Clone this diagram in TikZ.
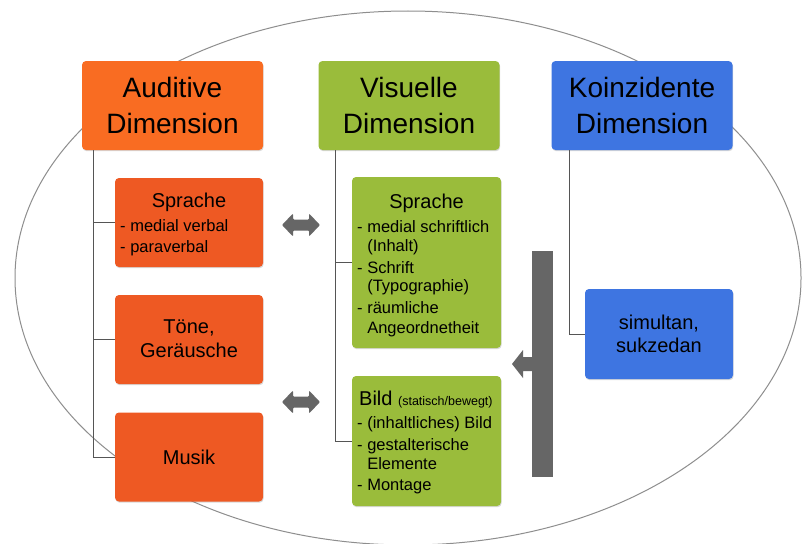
\documentclass[tikz,border=0pt]{standalone}
\usepackage{fontspec}
\setmainfont{Liberation Sans}
\usetikzlibrary{shadows}
\definecolor{audtitle}{HTML}{F96C22}
\definecolor{audsub}{HTML}{EE5923}
\definecolor{vis}{HTML}{9ABC3B}
\definecolor{koin}{HTML}{3E75E1}
\definecolor{arrgray}{HTML}{666666}
\definecolor{treeline}{HTML}{555555}
\definecolor{ellgray}{HTML}{8E8E8E}
\tikzset{
  box/.style={rounded corners=4pt, inner sep=0pt,
    drop shadow={opacity=0.3,shadow xshift=0.6pt,shadow yshift=-1.2pt}},
  titlebox/.style={box, minimum width=181pt, minimum height=89pt,
    font=\fontsize{28}{36}\selectfont, align=center},
  subbox/.style={box, minimum width=148pt},
  headtxt/.style={anchor=base, inner sep=0pt, font=\fontsize{20}{24}\selectfont},
  itemtxt/.style={anchor=base west, inner sep=0pt, font=\fontsize{16.5}{19.5}\selectfont},
  centertxt/.style={align=center, inner sep=0pt, font=\fontsize{20}{24}\selectfont},
  tree/.style={draw=treeline, line width=0.8pt},
  dblarrow/.pic={\fill[arrgray, rounded corners=1pt] (-19,0) -- (-8,-11.5) -- (-8,-5.5) -- (8,-5.5) -- (8,-11.5) -- (19,0) -- (8,11.5) -- (8,5.5) -- (-8,5.5) -- (-8,11.5) -- cycle;}
}
\begin{document}
\begin{tikzpicture}[x=1pt,y=-1pt]
\useasboundingbox (0,0) rectangle (802,543);
\fill[white] (0,0) rectangle (802,543);
% ellipse
\draw[ellgray, line width=1pt] (408,278) ellipse [x radius=393pt, y radius=267pt];

% title boxes
\node[titlebox, fill=audtitle] (aud) at (172.5,105.5) {Auditive\\Dimension};
\node[titlebox, fill=vis] (vis) at (409,105.5) {Visuelle\\Dimension};
\node[titlebox, fill=koin] (koi) at (642,105.5) {Koinzidente\\Dimension};

% auditive sub boxes
\node[subbox, fill=audsub, minimum height=89pt] (asp) at (189,222.5) {};
\node[subbox, fill=audsub, minimum height=89pt] (ato) at (189,339.5) {};
\node[subbox, fill=audsub, minimum height=89pt] (amu) at (189,457) {};

% visual sub boxes
\node[subbox, fill=vis, minimum width=149pt, minimum height=171pt] (vsp) at (426.5,262.5) {};
\node[subbox, fill=vis, minimum width=149pt, minimum height=130pt] (vbi) at (426.5,441) {};

% koinzidente sub box
\node[subbox, fill=koin, minimum height=90pt] (ksi) at (659,334) {};

% tree lines
\draw[tree] ([xshift=12pt]aud.south west) |- (asp.west);
\draw[tree] ([xshift=12pt]aud.south west) |- (ato.west);
\draw[tree] ([xshift=12pt]aud.south west) |- (amu.west);
\draw[tree] ([xshift=17pt]vis.south west) |- (vsp.west);
\draw[tree] ([xshift=17pt]vis.south west) |- (vbi.west);
\draw[tree] ([xshift=18pt]koi.south west) |- (ksi.west);

% texts auditive
\node[headtxt] (asph) at (189,207.7) {Sprache};
\node[itemtxt] (aspi1) at (120,231) {- medial verbal};
\node[itemtxt] (aspi2) at (120,252.7) {- paraverbal};
\node[centertxt] (atot) at (189,338.5) {Töne,\\Geräusche};
\node[centertxt] (amut) at (189,457) {Musik};

% texts visual Sprache
\node[headtxt] (vsph) at (426.5,208) {Sprache};
\node[itemtxt] (vspi1) at (357,232.7) {- medial schriftlich};
\node[itemtxt] (vspi1b) at (357,251.7) {\phantom{- }(Inhalt)};
\node[itemtxt] (vspi2) at (357,273.3) {- Schrift};
\node[itemtxt] (vspi2b) at (357,291.7) {\phantom{- }(Typographie)};
\node[itemtxt] (vspi3) at (357,313.3) {- räumliche};
\node[itemtxt] (vspi3b) at (357,333.3) {\phantom{- }Angeordnetheit};

% texts visual Bild
\node[itemtxt, font=\fontsize{20}{24}\selectfont] (vbih) at (359,405) {Bild {\fontsize{12.5}{14}\selectfont(statisch/bewegt)}};
\node[itemtxt] (vbii1) at (357,428) {- (inhaltliches) Bild};
\node[itemtxt] (vbii2) at (357,450) {- gestalterische};
\node[itemtxt] (vbii2b) at (357,469) {\phantom{- }Elemente};
\node[itemtxt] (vbii3) at (357,490.7) {- Montage};

% koinzidente text
\node[centertxt, font=\fontsize{20}{23}\selectfont] (ksit) at (659,334) {simultan,\\sukzedan};

% double arrows
\pic at (301,225) {dblarrow};
\pic at (301,402) {dblarrow};

% bracket with arrow
\fill[arrgray] (532,251) rectangle (553,477);
\fill[arrgray] (532.5,357) -- (523,357) -- (523,350) -- (512,364) -- (523,378) -- (523,371) -- (532.5,371) -- cycle;
\end{tikzpicture}
\end{document}
